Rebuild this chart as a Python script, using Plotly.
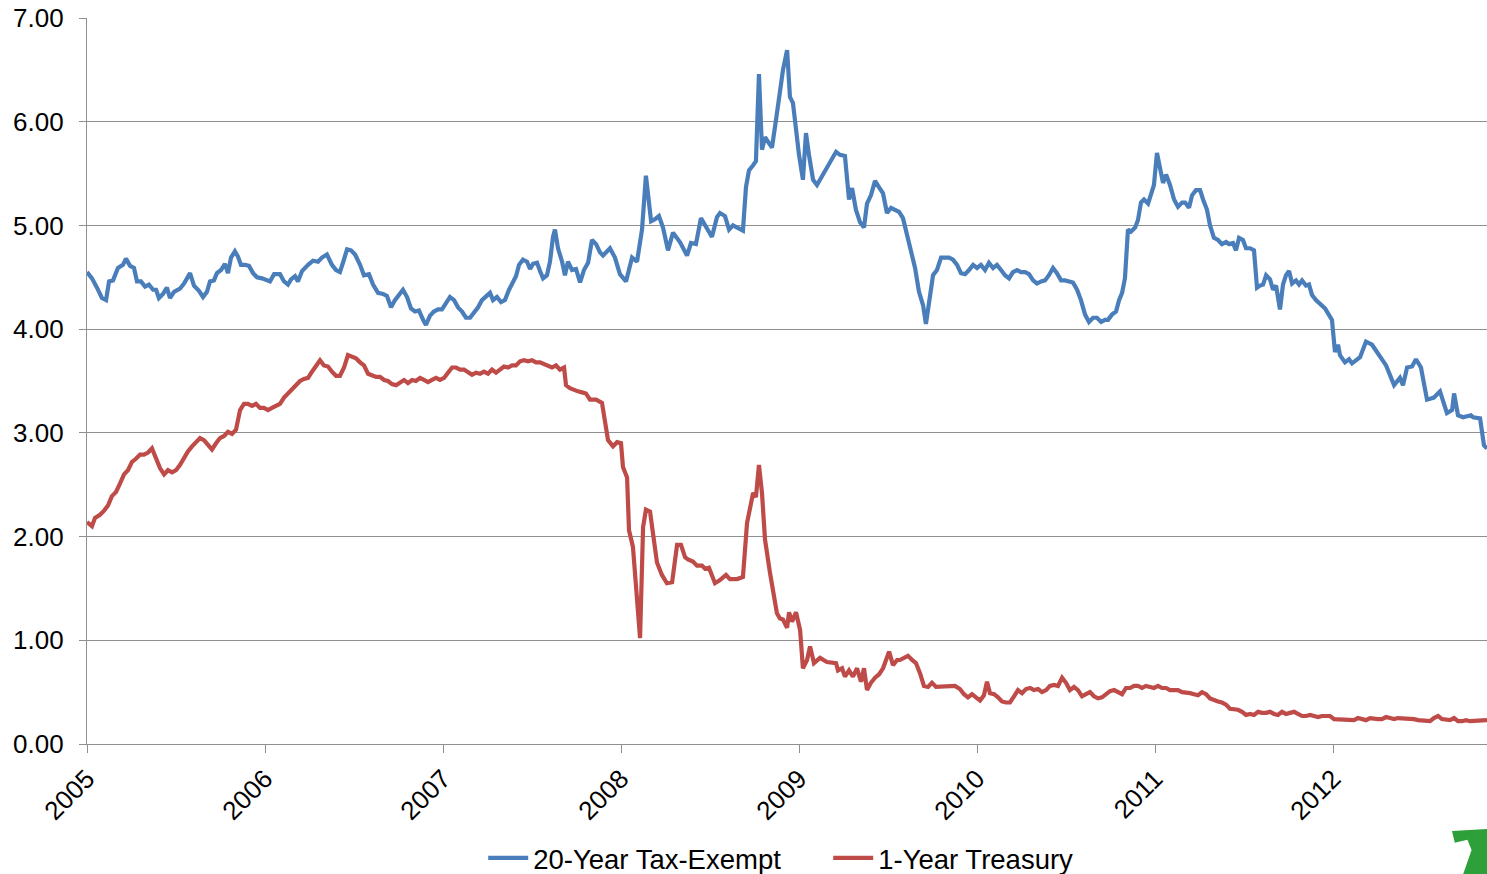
import plotly.graph_objects as go

# ---------------- data (decimal years, percent yields) ----------------
taxexempt_years = [
    2005.000, 2005.028, 2005.056, 2005.084, 2005.107, 2005.124, 2005.146, 2005.174, 2005.202, 2005.219,
    2005.242, 2005.264, 2005.281, 2005.303, 2005.326, 2005.348, 2005.371, 2005.388, 2005.404, 2005.427,
    2005.449, 2005.466, 2005.489, 2005.522, 2005.545, 2005.579, 2005.601, 2005.629, 2005.652, 2005.674,
    2005.691, 2005.713, 2005.730, 2005.753, 2005.775, 2005.792, 2005.809, 2005.831, 2005.848, 2005.865,
    2005.888, 2005.910, 2005.933, 2005.955, 2005.983, 2006.006, 2006.028, 2006.051, 2006.084, 2006.107,
    2006.129, 2006.146, 2006.169, 2006.185, 2006.208, 2006.242, 2006.270, 2006.298, 2006.320, 2006.348,
    2006.376, 2006.399, 2006.421, 2006.438, 2006.461, 2006.483, 2006.506, 2006.534, 2006.556, 2006.584,
    2006.607, 2006.635, 2006.663, 2006.685, 2006.708, 2006.730, 2006.753, 2006.775, 2006.798, 2006.820,
    2006.843, 2006.865, 2006.888, 2006.904, 2006.927, 2006.949, 2006.972, 2006.994, 2007.017, 2007.039,
    2007.062, 2007.084, 2007.107, 2007.129, 2007.152, 2007.174, 2007.197, 2007.219, 2007.247, 2007.264,
    2007.281, 2007.303, 2007.326, 2007.348, 2007.371, 2007.393, 2007.410, 2007.427, 2007.449, 2007.472,
    2007.489, 2007.506, 2007.528, 2007.545, 2007.562, 2007.584, 2007.601, 2007.618, 2007.629, 2007.646,
    2007.669, 2007.685, 2007.702, 2007.725, 2007.747, 2007.770, 2007.792, 2007.815, 2007.837, 2007.860,
    2007.882, 2007.899, 2007.938, 2007.966, 2007.994, 2008.028, 2008.062, 2008.090, 2008.118, 2008.140,
    2008.169, 2008.191, 2008.213, 2008.236, 2008.264, 2008.292, 2008.331, 2008.371, 2008.393, 2008.421,
    2008.449, 2008.483, 2008.511, 2008.539, 2008.556, 2008.584, 2008.607, 2008.629, 2008.657, 2008.685,
    2008.702, 2008.719, 2008.742, 2008.758, 2008.775, 2008.792, 2008.809, 2008.826, 2008.848, 2008.871,
    2008.893, 2008.910, 2008.933, 2008.949, 2008.966, 2008.983, 2009.000, 2009.022, 2009.039, 2009.056,
    2009.079, 2009.101, 2009.124, 2009.152, 2009.180, 2009.208, 2009.230, 2009.258, 2009.281, 2009.298,
    2009.320, 2009.343, 2009.365, 2009.382, 2009.404, 2009.427, 2009.449, 2009.472, 2009.494, 2009.517,
    2009.539, 2009.562, 2009.584, 2009.607, 2009.629, 2009.652, 2009.674, 2009.697, 2009.713, 2009.730,
    2009.753, 2009.775, 2009.798, 2009.820, 2009.843, 2009.865, 2009.888, 2009.910, 2009.933, 2009.955,
    2009.978, 2010.000, 2010.022, 2010.045, 2010.067, 2010.090, 2010.112, 2010.135, 2010.157, 2010.180,
    2010.202, 2010.225, 2010.247, 2010.270, 2010.292, 2010.315, 2010.337, 2010.360, 2010.382, 2010.404,
    2010.427, 2010.449, 2010.472, 2010.494, 2010.517, 2010.539, 2010.562, 2010.584, 2010.607, 2010.629,
    2010.652, 2010.674, 2010.697, 2010.719, 2010.736, 2010.758, 2010.781, 2010.798, 2010.815, 2010.831,
    2010.848, 2010.865, 2010.888, 2010.904, 2010.921, 2010.938, 2010.961, 2010.978, 2010.994, 2011.011,
    2011.028, 2011.045, 2011.062, 2011.084, 2011.107, 2011.129, 2011.152, 2011.169, 2011.191, 2011.208,
    2011.230, 2011.253, 2011.270, 2011.292, 2011.309, 2011.331, 2011.354, 2011.376, 2011.399, 2011.416,
    2011.438, 2011.455, 2011.472, 2011.494, 2011.511, 2011.534, 2011.556, 2011.573, 2011.590, 2011.607,
    2011.624, 2011.646, 2011.663, 2011.680, 2011.702, 2011.719, 2011.736, 2011.753, 2011.770, 2011.792,
    2011.809, 2011.826, 2011.848, 2011.865, 2011.882, 2011.904, 2011.955, 2011.994, 2012.011, 2012.028,
    2012.039, 2012.067, 2012.090, 2012.107, 2012.152, 2012.185, 2012.219, 2012.264, 2012.298, 2012.343,
    2012.376, 2012.393, 2012.416, 2012.444, 2012.466, 2012.494, 2012.528, 2012.567, 2012.601, 2012.640,
    2012.669, 2012.680, 2012.702, 2012.730, 2012.775, 2012.787, 2012.826, 2012.848, 2012.865,
]
taxexempt_values = [
    4.55, 4.49, 4.40, 4.30, 4.28, 4.46, 4.47, 4.59, 4.62, 4.68,
    4.61, 4.59, 4.46, 4.46, 4.41, 4.43, 4.38, 4.38, 4.30, 4.34,
    4.40, 4.30, 4.36, 4.39, 4.44, 4.54, 4.42, 4.37, 4.31, 4.36,
    4.46, 4.47, 4.54, 4.57, 4.63, 4.54, 4.69, 4.75, 4.70, 4.62,
    4.62, 4.61, 4.54, 4.50, 4.49, 4.48, 4.46, 4.53, 4.53, 4.46,
    4.43, 4.48, 4.51, 4.46, 4.56, 4.62, 4.66, 4.65, 4.69, 4.72,
    4.62, 4.57, 4.55, 4.64, 4.77, 4.76, 4.72, 4.62, 4.52, 4.53,
    4.43, 4.35, 4.34, 4.32, 4.21, 4.28, 4.34, 4.38, 4.31, 4.20,
    4.17, 4.18, 4.09, 4.04, 4.13, 4.17, 4.19, 4.19, 4.25, 4.31,
    4.28, 4.21, 4.17, 4.11, 4.11, 4.16, 4.21, 4.28, 4.32, 4.35,
    4.28, 4.31, 4.26, 4.28, 4.38, 4.45, 4.51, 4.62, 4.67, 4.65,
    4.58, 4.63, 4.64, 4.56, 4.49, 4.52, 4.65, 4.89, 4.96, 4.78,
    4.65, 4.52, 4.65, 4.57, 4.58, 4.45, 4.57, 4.64, 4.86, 4.82,
    4.74, 4.71, 4.78, 4.69, 4.53, 4.46, 4.69, 4.65, 4.96, 5.48,
    5.04, 5.06, 5.09, 4.98, 4.76, 4.93, 4.84, 4.71, 4.83, 4.82,
    5.07, 4.97, 4.89, 5.08, 5.12, 5.09, 4.96, 5.00, 4.98, 4.95,
    5.37, 5.53, 5.58, 5.62, 6.46, 5.73, 5.85, 5.80, 5.75, 6.02,
    6.31, 6.50, 6.69, 6.24, 6.18, 5.92, 5.68, 5.44, 5.89, 5.68,
    5.44, 5.39, 5.46, 5.54, 5.61, 5.71, 5.68, 5.67, 5.25, 5.36,
    5.15, 5.03, 4.98, 5.21, 5.29, 5.43, 5.37, 5.31, 5.12, 5.17,
    5.15, 5.13, 5.07, 4.91, 4.76, 4.59, 4.36, 4.23, 4.05, 4.26,
    4.52, 4.57, 4.69, 4.69, 4.69, 4.67, 4.62, 4.54, 4.53, 4.57,
    4.62, 4.59, 4.62, 4.57, 4.64, 4.59, 4.62, 4.57, 4.52, 4.49,
    4.55, 4.57, 4.55, 4.55, 4.53, 4.47, 4.44, 4.46, 4.47, 4.52,
    4.59, 4.54, 4.47, 4.47, 4.46, 4.45, 4.38, 4.28, 4.14, 4.07,
    4.11, 4.11, 4.07, 4.09, 4.09, 4.14, 4.17, 4.28, 4.35, 4.49,
    4.96, 4.94, 4.98, 5.05, 5.22, 5.25, 5.21, 5.29, 5.39, 5.70,
    5.55, 5.41, 5.49, 5.39, 5.25, 5.18, 5.22, 5.22, 5.17, 5.29,
    5.34, 5.34, 5.25, 5.15, 5.00, 4.88, 4.86, 4.82, 4.84, 4.82,
    4.83, 4.76, 4.88, 4.86, 4.78, 4.78, 4.76, 4.40, 4.42, 4.43,
    4.52, 4.48, 4.38, 4.42, 4.19, 4.43, 4.52, 4.56, 4.44, 4.47,
    4.43, 4.47, 4.42, 4.43, 4.33, 4.28, 4.20, 4.09, 3.78, 3.85,
    3.75, 3.68, 3.71, 3.67, 3.73, 3.88, 3.85, 3.73, 3.65, 3.46,
    3.53, 3.46, 3.63, 3.64, 3.71, 3.63, 3.32, 3.34, 3.40, 3.19,
    3.22, 3.38, 3.17, 3.15, 3.17, 3.15, 3.14, 2.88, 2.85,
]

treasury_years = [
    2005.000, 2005.028, 2005.045, 2005.073, 2005.096, 2005.118, 2005.140, 2005.163, 2005.185, 2005.208,
    2005.230, 2005.253, 2005.275, 2005.298, 2005.320, 2005.343, 2005.365, 2005.388, 2005.410, 2005.433,
    2005.455, 2005.478, 2005.500, 2005.522, 2005.545, 2005.567, 2005.590, 2005.612, 2005.635, 2005.657,
    2005.680, 2005.702, 2005.725, 2005.747, 2005.770, 2005.792, 2005.815, 2005.837, 2005.860, 2005.882,
    2005.904, 2005.927, 2005.949, 2005.972, 2005.994, 2006.017, 2006.039, 2006.062, 2006.084, 2006.107,
    2006.129, 2006.152, 2006.174, 2006.197, 2006.219, 2006.242, 2006.264, 2006.287, 2006.309, 2006.331,
    2006.354, 2006.376, 2006.399, 2006.421, 2006.444, 2006.466, 2006.489, 2006.511, 2006.534, 2006.556,
    2006.579, 2006.601, 2006.624, 2006.646, 2006.669, 2006.691, 2006.713, 2006.736, 2006.758, 2006.781,
    2006.803, 2006.826, 2006.848, 2006.871, 2006.893, 2006.916, 2006.938, 2006.961, 2006.983, 2007.006,
    2007.028, 2007.051, 2007.073, 2007.096, 2007.118, 2007.140, 2007.163, 2007.185, 2007.208, 2007.230,
    2007.253, 2007.275, 2007.298, 2007.320, 2007.343, 2007.365, 2007.388, 2007.410, 2007.433, 2007.455,
    2007.478, 2007.500, 2007.522, 2007.545, 2007.567, 2007.590, 2007.612, 2007.635, 2007.657, 2007.680,
    2007.691, 2007.713, 2007.736, 2007.758, 2007.781, 2007.803, 2007.826, 2007.860, 2007.893, 2007.910,
    2007.927, 2007.955, 2007.978, 2008.000, 2008.011, 2008.034, 2008.045, 2008.067, 2008.084, 2008.107,
    2008.124, 2008.140, 2008.163, 2008.180, 2008.202, 2008.230, 2008.258, 2008.287, 2008.298, 2008.315,
    2008.337, 2008.360, 2008.376, 2008.404, 2008.427, 2008.455, 2008.472, 2008.494, 2008.528, 2008.556,
    2008.590, 2008.612, 2008.652, 2008.685, 2008.708, 2008.725, 2008.742, 2008.758, 2008.775, 2008.792,
    2008.809, 2008.837, 2008.854, 2008.876, 2008.893, 2008.910, 2008.933, 2008.944, 2008.961, 2008.983,
    2009.006, 2009.022, 2009.045, 2009.062, 2009.084, 2009.118, 2009.157, 2009.185, 2009.208, 2009.219,
    2009.242, 2009.258, 2009.281, 2009.303, 2009.326, 2009.348, 2009.365, 2009.382, 2009.404, 2009.427,
    2009.449, 2009.472, 2009.489, 2009.506, 2009.528, 2009.551, 2009.567, 2009.590, 2009.612, 2009.635,
    2009.657, 2009.680, 2009.702, 2009.725, 2009.747, 2009.770, 2009.792, 2009.820, 2009.848, 2009.876,
    2009.904, 2009.927, 2009.949, 2009.972, 2009.994, 2010.017, 2010.039, 2010.056, 2010.073, 2010.096,
    2010.118, 2010.140, 2010.163, 2010.185, 2010.208, 2010.230, 2010.253, 2010.275, 2010.298, 2010.320,
    2010.343, 2010.365, 2010.388, 2010.410, 2010.433, 2010.455, 2010.478, 2010.500, 2010.522, 2010.545,
    2010.567, 2010.590, 2010.612, 2010.635, 2010.657, 2010.680, 2010.702, 2010.725, 2010.747, 2010.770,
    2010.792, 2010.815, 2010.837, 2010.860, 2010.882, 2010.904, 2010.927, 2010.949, 2010.972, 2010.994,
    2011.017, 2011.039, 2011.062, 2011.084, 2011.107, 2011.129, 2011.152, 2011.174, 2011.197, 2011.219,
    2011.242, 2011.264, 2011.287, 2011.309, 2011.331, 2011.354, 2011.376, 2011.399, 2011.421, 2011.444,
    2011.466, 2011.489, 2011.511, 2011.534, 2011.556, 2011.579, 2011.601, 2011.624, 2011.646, 2011.669,
    2011.691, 2011.713, 2011.736, 2011.758, 2011.781, 2011.803, 2011.826, 2011.848, 2011.871, 2011.893,
    2011.916, 2011.938, 2011.961, 2011.983, 2012.006, 2012.028, 2012.051, 2012.073, 2012.096, 2012.118,
    2012.140, 2012.163, 2012.185, 2012.208, 2012.230, 2012.253, 2012.275, 2012.298, 2012.320, 2012.343,
    2012.365, 2012.388, 2012.410, 2012.433, 2012.455, 2012.478, 2012.500, 2012.522, 2012.545, 2012.567,
    2012.590, 2012.612, 2012.635, 2012.657, 2012.680, 2012.702, 2012.725, 2012.747, 2012.770, 2012.792,
    2012.815, 2012.837, 2012.865,
]
treasury_values = [
    2.14, 2.10, 2.18, 2.21, 2.25, 2.30, 2.39, 2.43, 2.51, 2.60,
    2.64, 2.72, 2.75, 2.79, 2.79, 2.81, 2.85, 2.76, 2.66, 2.60,
    2.64, 2.62, 2.64, 2.69, 2.76, 2.82, 2.87, 2.91, 2.95, 2.93,
    2.88, 2.84, 2.90, 2.95, 2.97, 3.01, 2.99, 3.03, 3.22, 3.28,
    3.28, 3.26, 3.28, 3.24, 3.24, 3.22, 3.24, 3.26, 3.28, 3.34,
    3.38, 3.41, 3.46, 3.50, 3.52, 3.53, 3.59, 3.65, 3.70, 3.65,
    3.64, 3.59, 3.55, 3.55, 3.63, 3.75, 3.74, 3.72, 3.68, 3.65,
    3.57, 3.55, 3.54, 3.54, 3.51, 3.50, 3.47, 3.46, 3.49, 3.51,
    3.48, 3.51, 3.50, 3.53, 3.51, 3.49, 3.51, 3.53, 3.51, 3.53,
    3.58, 3.63, 3.63, 3.61, 3.61, 3.58, 3.56, 3.58, 3.57, 3.59,
    3.57, 3.61, 3.58, 3.61, 3.64, 3.63, 3.65, 3.65, 3.69, 3.70,
    3.69, 3.70, 3.68, 3.68, 3.66, 3.65, 3.63, 3.65, 3.61, 3.63,
    3.46, 3.43, 3.41, 3.40, 3.39, 3.38, 3.32, 3.32, 3.29, 3.10,
    2.93, 2.87, 2.91, 2.90, 2.67, 2.57, 2.06, 1.90, 1.51, 1.02,
    2.09, 2.26, 2.24, 2.03, 1.75, 1.63, 1.55, 1.56, 1.68, 1.92,
    1.92, 1.80, 1.78, 1.76, 1.72, 1.72, 1.69, 1.70, 1.55, 1.58,
    1.63, 1.59, 1.59, 1.61, 2.13, 2.29, 2.42, 2.38, 2.69, 2.42,
    1.97, 1.65, 1.48, 1.26, 1.21, 1.20, 1.12, 1.27, 1.18, 1.27,
    1.10, 0.73, 0.81, 0.94, 0.78, 0.83, 0.79, 0.78, 0.78, 0.71,
    0.73, 0.65, 0.71, 0.65, 0.73, 0.60, 0.73, 0.52, 0.59, 0.64,
    0.67, 0.73, 0.81, 0.89, 0.76, 0.81, 0.81, 0.83, 0.85, 0.81,
    0.78, 0.68, 0.56, 0.55, 0.59, 0.55, 0.55, 0.56, 0.56, 0.56,
    0.53, 0.48, 0.45, 0.48, 0.45, 0.42, 0.47, 0.60, 0.49, 0.48,
    0.45, 0.41, 0.40, 0.40, 0.46, 0.52, 0.49, 0.53, 0.54, 0.52,
    0.53, 0.50, 0.52, 0.56, 0.57, 0.56, 0.64, 0.59, 0.52, 0.55,
    0.52, 0.46, 0.48, 0.50, 0.46, 0.44, 0.45, 0.48, 0.51, 0.52,
    0.50, 0.48, 0.54, 0.54, 0.56, 0.56, 0.54, 0.56, 0.55, 0.54,
    0.56, 0.54, 0.54, 0.52, 0.52, 0.52, 0.50, 0.50, 0.49, 0.48,
    0.47, 0.50, 0.48, 0.44, 0.42, 0.41, 0.40, 0.38, 0.34, 0.34,
    0.33, 0.31, 0.28, 0.29, 0.28, 0.31, 0.30, 0.30, 0.31, 0.29,
    0.28, 0.31, 0.29, 0.30, 0.31, 0.29, 0.27, 0.27, 0.28, 0.27,
    0.26, 0.27, 0.27, 0.27, 0.24, 0.24, 0.24, 0.24, 0.24, 0.23,
    0.25, 0.24, 0.23, 0.25, 0.24, 0.24, 0.24, 0.26, 0.25, 0.24,
    0.25, 0.25, 0.24, 0.24, 0.24, 0.23, 0.23, 0.22, 0.22, 0.25,
    0.27, 0.24, 0.24, 0.23, 0.25, 0.22, 0.22, 0.23, 0.22, 0.22,
    0.22, 0.22, 0.23,
]

year_ticks = [2005, 2006, 2007, 2008, 2009, 2010, 2011, 2012]
y_ticks = [0, 1, 2, 3, 4, 5, 6, 7]

series_names = ["20-Year Tax-Exempt", "1-Year Treasury"]
series_colors = ["#4A7EBB", "#BE4B48"]

# ---------------- figure ----------------
fig = go.Figure()
fig.add_trace(go.Scatter(x=taxexempt_years, y=taxexempt_values, mode="lines",
                         name=series_names[0],
                         line=dict(color=series_colors[0], width=4.2)))
fig.add_trace(go.Scatter(x=treasury_years, y=treasury_values, mode="lines",
                         name=series_names[1],
                         line=dict(color=series_colors[1], width=4.2)))

grid_col = "#8F8F8F"
fig.update_layout(
    width=1487, height=874,
    margin=dict(l=87, r=0, t=18, b=130, autoexpand=False),
    paper_bgcolor="white", plot_bgcolor="white",
    font=dict(family="Liberation Sans, Arial, sans-serif", size=26, color="black"),
    showlegend=True,
    legend=dict(orientation="h", x=0.283, xanchor="left", y=-0.157, yanchor="middle",
                font=dict(size=27.5), itemwidth=40, tracegroupgap=0,
                entrywidth=290, entrywidthmode="pixels",
                bgcolor="rgba(0,0,0,0)"),
    xaxis=dict(range=[2005, max(taxexempt_years)], tickmode="array",
               tickvals=year_ticks, ticktext=[str(y) for y in year_ticks],
               tickangle=-45, showgrid=False, zeroline=False, automargin=False,
               showline=True, linecolor=grid_col, linewidth=1.3,
               ticks="outside", ticklen=8, tickcolor=grid_col, tickwidth=1.3,
               ticklabelstandoff=0,
               tickfont=dict(size=26)),
    yaxis=dict(range=[0, 7], tickmode="array", tickvals=y_ticks,
               ticktext=[f"{v:.2f}" for v in y_ticks], automargin=False,
               showgrid=True, gridcolor=grid_col, gridwidth=1.3, zeroline=False,
               showline=True, linecolor=grid_col, linewidth=1.3,
               ticks="outside", ticklen=7, tickcolor=grid_col, tickwidth=1.3,
               ticklabelstandoff=10,
               tickfont=dict(size=26)),
)

# partial green logo in the bottom-right corner
fig.add_shape(type="path", xref="paper", yref="paper",
              path="M 0.975,-0.120 L 1.0,-0.117 L 1.0,-0.179 L 0.983,-0.179 "
                   "L 0.989,-0.146 L 0.986,-0.132 L 0.977,-0.136 Z",
              fillcolor="#2EA03A", line=dict(width=0), layer="above")

fig.write_html("out.html",
               config={"displayModeBar": False},
               post_script="document.body.style.margin='0px';"
                           "document.body.style.overflow='hidden';")
